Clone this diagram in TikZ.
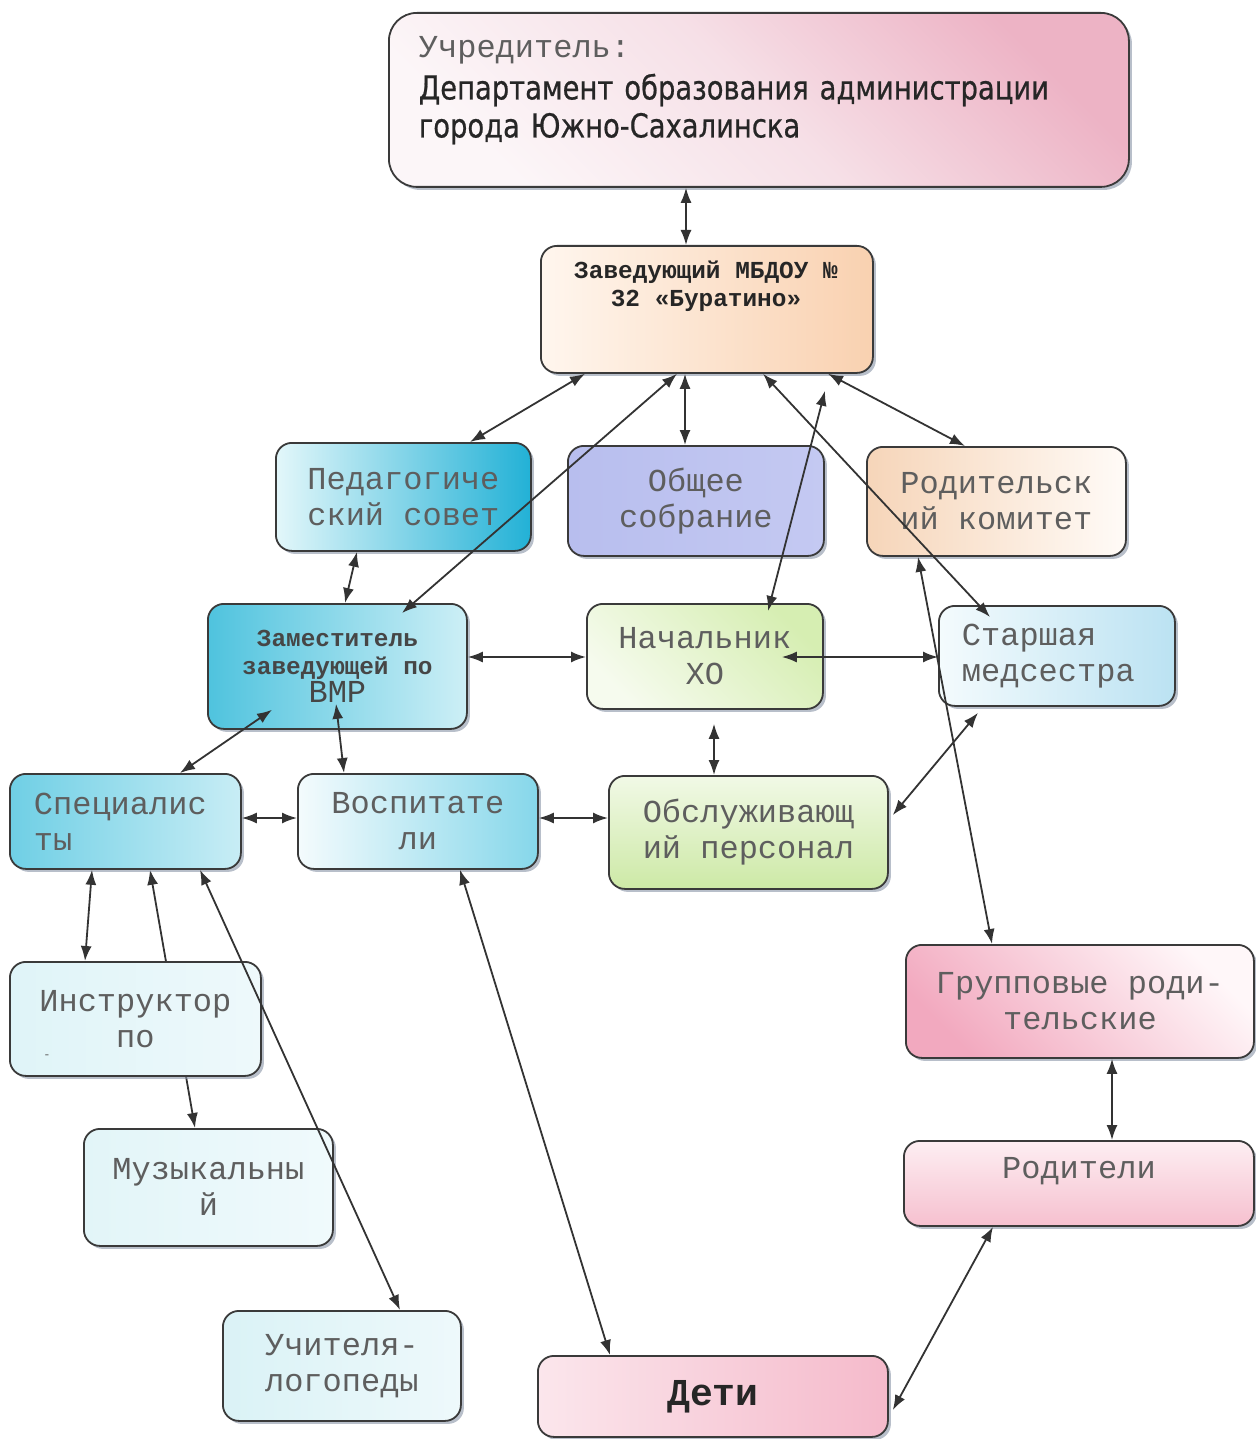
\documentclass[tikz,border=0pt]{standalone}
\usepackage{fontspec}
\setmonofont{Liberation Mono}
\newfontfamily\depfont[FakeStretch=0.83,FakeBold=0.6]{DejaVu Sans}
\usetikzlibrary{arrows.meta,shadows,calc}
\definecolor{bord}{HTML}{3A3A3A}
\definecolor{linec}{HTML}{333333}
\definecolor{txtg}{HTML}{5E5E5E}
\definecolor{txtd}{HTML}{262626}
\definecolor{shadowc}{HTML}{8A95A8}
\definecolor{uchP}{HTML}{EDB3C5}
\definecolor{uchM}{HTML}{F6E0E7}
\definecolor{uchW}{HTML}{FCF6F8}
\newcommand\mfont{\ttfamily\fontsize{32}{36}\selectfont}
\newcommand\mbold{\ttfamily\bfseries\fontsize{24.4}{28}\selectfont}
\pgfdeclarelayer{bg}
\pgfsetlayers{bg,main}
\begin{document}
\begin{tikzpicture}[x=1pt,y=-1pt,
 box/.style={draw=bord, line width=1.8pt, rounded corners=16pt, anchor=north west,
   inner sep=0pt, align=center, font=\mfont, text=txtg,
   drop shadow={shadow xshift=3pt, shadow yshift=-3pt, fill=shadowc, opacity=0.6}},
 conn/.style={draw=linec, line width=1.8pt,
   {Latex[length=15pt,width=11pt]}-{Latex[length=15pt,width=11pt]}}]
\begin{pgfonlayer}{bg}
\fill[white] (0,0) rectangle (1255,1439);
\end{pgfonlayer}
\useasboundingbox (0,0) rectangle (1255,1439);

% boxes
\node[box, rounded corners=28pt, top color=uchP, bottom color=uchW, middle color=uchM, shading angle=-45,
  minimum width=740pt, minimum height=174pt, align=left, text width=680pt, text depth=106pt,
  font=\depfont\fontsize{33}{38}\selectfont, text=txtd] (uch) at (388,12)
  {{\ttfamily\fontsize{32}{38}\selectfont\color{txtg}Учредитель:}\\[4pt]Департамент образования администрации\\города Южно-Сахалинска};
\node[box, left color={rgb,255:red,255;green,246;blue,238}, right color={rgb,255:red,249;green,209;blue,176},
  minimum width=332pt, minimum height=127pt] (zav) at (540,245) {};
\node[font=\mbold, text=txtd, align=center] (zavt) at (706,286) {Заведующий МБДОУ №\\32 «Буратино»};

\node[box, left color={rgb,255:red,227;green,247;blue,250}, middle color={rgb,255:red,140;green,217;blue,234}, right color={rgb,255:red,34;green,177;blue,214},
  minimum width=255pt, minimum height=108pt] (ped) at (275,442) {Педагогиче\\ский совет};
\node[box, left color={rgb,255:red,184;green,190;blue,238}, middle color={rgb,255:red,222;green,225;blue,248}, right color={rgb,255:red,196;green,201;blue,242},
  minimum width=256pt, minimum height=110pt] (obs) at (567,445) {Общее\\собрание};
\node[box, left color={rgb,255:red,246;green,213;blue,185}, right color={rgb,255:red,255;green,251;blue,247},
  minimum width=259pt, minimum height=109pt] (rod) at (866,446) {Родительск\\ий комитет};

\node[box, left color={rgb,255:red,79;green,195;blue,222}, middle color={rgb,255:red,143;green,217;blue,234}, right color={rgb,255:red,205;green,239;blue,246},
  minimum width=259pt, minimum height=125pt, font=\mbold, text={rgb,255:red,70;green,70;blue,70}] (zam) at (207,603)
  {Заместитель\\заведующей по\\{\mdseries\fontsize{32}{28}\selectfont ВМР}};
\node[box, top color={rgb,255:red,214;green,238;blue,178}, bottom color={rgb,255:red,246;green,251;blue,238}, shading angle=-45,
  minimum width=236pt, minimum height=105pt] (nach) at (586,603) {Начальник\\ХО};
\node[box, left color={rgb,255:red,244;green,251;blue,253}, right color={rgb,255:red,187;green,226;blue,242},
  minimum width=236pt, minimum height=100pt, align=left, text width=190pt] (star) at (938,605) {Старшая\\медсестра};

\node[box, left color={rgb,255:red,111;green,207;blue,229}, right color={rgb,255:red,200;green,237;blue,245},
  minimum width=231pt, minimum height=95pt, align=left, text width=183pt] (spec) at (9,773) {Специалис\\ты};
\node[box, left color={rgb,255:red,244;green,251;blue,253}, right color={rgb,255:red,134;green,215;blue,234},
  minimum width=240pt, minimum height=95pt] (vosp) at (297,773) {Воспитате\\ли};
\node[box, top color={rgb,255:red,241;green,249;blue,230}, bottom color={rgb,255:red,205;green,233;blue,166},
  minimum width=279pt, minimum height=113pt] (obsl) at (608,775) {Обслуживающ\\ий персонал};

\node[box, left color={rgb,255:red,223;green,244;blue,248}, right color={rgb,255:red,238;green,249;blue,251},
  minimum width=251pt, minimum height=114pt] (instr) at (9,961) {Инструктор\\по};
\node[font=\ttfamily\fontsize{12}{12}\selectfont, text=txtg, inner sep=0pt] (instdash) at (47,1057) {-};
\node[box, top color={rgb,255:red,255;green,247;blue,249}, bottom color={rgb,255:red,242;green,169;blue,191}, shading angle=-45,
  minimum width=348pt, minimum height=113pt] (grp) at (905,944) {Групповые роди-\\тельские};
\node[box, left color={rgb,255:red,226;green,245;blue,248}, right color={rgb,255:red,240;green,250;blue,252},
  minimum width=249pt, minimum height=117pt] (muz) at (83,1128) {Музыкальны\\й};
\node[box, top color={rgb,255:red,253;green,238;blue,242}, bottom color={rgb,255:red,246;green,192;blue,207},
  minimum width=350pt, minimum height=85pt, text depth=30pt] (rodit) at (903,1140) {Родители};
\node[box, left color={rgb,255:red,218;green,242;blue,246}, right color={rgb,255:red,238;green,249;blue,251},
  minimum width=238pt, minimum height=110pt] (uchl) at (222,1310) {Учителя-\\логопеды};
\node[box, left color={rgb,255:red,251;green,230;blue,236}, right color={rgb,255:red,245;green,186;blue,203},
  minimum width=350pt, minimum height=81pt, font=\ttfamily\bfseries\fontsize{38}{40}\selectfont, text=txtd] (deti) at (537,1355) {Дети};

% connectors
\begin{pgfonlayer}{bg}
\draw[conn] (spec.south -| 150,0) -- (muz.north -| 195,0);
\end{pgfonlayer}
\draw[conn] (uch.south -| 686,0) -- (zav.north -| 686,0);
\draw[conn] (zav.south -| 585,0) -- (ped.north -| 470,0);
\draw[conn] (zav.south -| 677,0) -- ($(zam.north -| 402,0)+(0,10)$);
\draw[conn] (zav.south -| 685,0) -- (obs.north -| 685,0);
\draw[conn] (zav.south -| 763,0) -- ($(star.north -| 990,0)+(0,12)$);
\draw[conn] ($(zav.south -| 825,0)+(0,17)$) -- ($(nach.north -| 768,0)+(0,8)$);
\draw[conn] (zav.south -| 828,0) -- (rod.north -| 965,0);
\draw[conn] (ped.south -| 357,0) -- (zam.north -| 345,0);
\draw[conn] (zam.east |- 0,657) -- (nach.west |- 0,657);
\draw[conn] ($(nach.east |- 0,657)+(-42,0)$) -- (star.west |- 0,657);
\draw[conn] ($(zam.south -| 272,0)+(0,-20)$) -- (spec.north -| 180,0);
\draw[conn] ($(zam.south -| 336,0)+(0,-26)$) -- (vosp.north -| 344,0);
\draw[conn] ($(nach.south -| 714,0)+(0,14)$) -- (obsl.north -| 714,0);
\draw[conn] (spec.east |- 0,818) -- (vosp.west |- 0,818);
\draw[conn] (vosp.east |- 0,818) -- (obsl.west |- 0,818);
\draw[conn] ($(obsl.east |- 0,815)+(4,0)$) -- ($(star.south -| 978,0)+(0,6)$);
\draw[conn] (rod.south -| 918,0) -- (grp.north -| 992,0);
\draw[conn] (grp.south -| 1112,0) -- (rodit.north -| 1112,0);
\draw[conn] (rodit.south -| 993,0) -- ($(deti.east |- 0,1410)+(4,0)$);
\draw[conn] (vosp.south -| 460,0) -- (deti.north -| 610,0);
\draw[conn] (spec.south -| 92,0) -- (instr.north -| 85,0);
\draw[conn] (spec.south -| 200,0) -- (uchl.north -| 400,0);
\end{tikzpicture}
\end{document}
